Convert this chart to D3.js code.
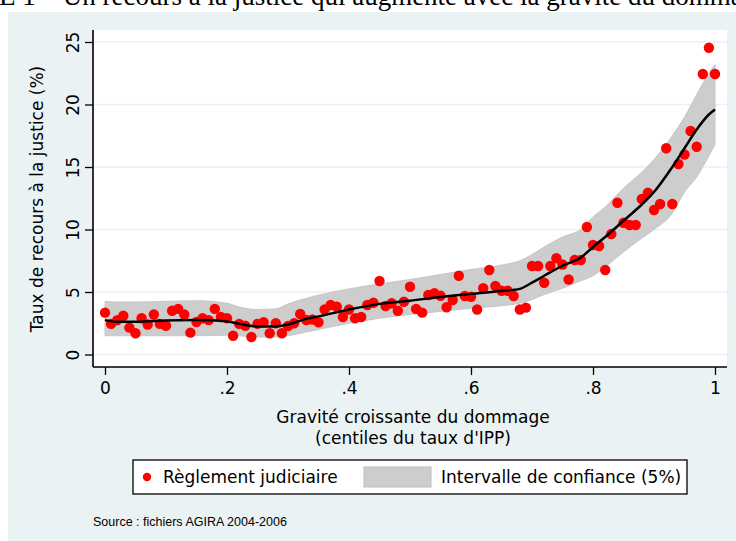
<!DOCTYPE html>
<html>
<head>
<meta charset="utf-8">
<script src="https://cdn.jsdelivr.net/npm/d3@7"></script>
<style>
  body { margin: 0; background: #fff; }
  svg { display: block; }
  text { font-family: "DejaVu Sans", "Liberation Sans", sans-serif; }
</style>
</head>
<body>
<script>
// taux de recours observé par centile (0, .01, ... 1)
var tauxObs = [3.35, 2.45, 2.75, 3.1, 2.15, 1.7, 2.9, 2.4, 3.2, 2.45,
  2.3, 3.5, 3.65, 3.2, 1.75, 2.6, 2.9, 2.75, 3.65, 3.0,
  2.9, 1.5, 2.45, 2.3, 1.4, 2.45, 2.58, 1.7, 2.5, 1.7,
  2.28, 2.5, 3.24, 2.76, 2.8, 2.58, 3.6, 3.96, 3.82, 3.0,
  3.6, 2.9, 3.0, 3.96, 4.14, 5.88, 3.88, 4.1, 3.5, 4.22,
  5.42, 3.65, 3.35, 4.76, 4.9, 4.7, 3.78, 4.36, 6.3, 4.68,
  4.62, 3.6, 5.3, 6.76, 5.48, 5.1, 5.1, 4.68, 3.6, 3.75,
  7.08, 7.08, 5.74, 7.08, 7.7, 7.2, 6.0, 7.56, 7.56, 10.2,
  8.76, 8.68, 6.76, 9.64, 12.14, 10.54, 10.36, 10.36, 12.44, 12.94,
  11.56, 12.04, 16.5, 12.04, 15.24, 16.0, 17.88, 16.62, 22.44, 24.54,
  22.44];

// courbe lissée et intervalle de confiance
var xLisse = [0, .02, .05, .1, .15, .2, .22, .25, .28, .3, .33, .35, .4, .45, .5, .55,
  .6, .65, .68, .7, .72, .75, .78, .8, .82, .85, .88, .9, .93, .95, .97, .99, 1];
var yLisse = [2.75, 2.62, 2.62, 2.72, 2.76, 2.65, 2.45, 2.25, 2.25, 2.4, 2.85, 3.05, 3.6, 4.05,
  4.3, 4.6, 4.85, 5.08, 5.25, 5.75, 6.3, 7.1, 7.75, 8.6, 9.4, 10.7, 12.0, 13.0, 15.0, 16.5,
  18.0, 19.2, 19.6];
var icBas = [1.5, 1.5, 1.5, 1.5, 1.5, 1.55, 1.5, 1.4, 1.4, 1.5, 1.8, 2.0, 2.5, 2.9, 3.2, 3.45,
  3.7, 3.9, 4.1, 4.4, 4.8, 5.3, 5.9, 6.3, 7.0, 8.2, 9.3, 10.0, 11.3, 13.0, 14.2, 15.9, 16.8];
var icHaut = [4.25, 4.2, 4.2, 4.25, 4.3, 4.1, 3.8, 3.6, 3.65, 4.05, 4.5, 4.75, 5.25, 5.65, 6.0,
  6.4, 6.8, 7.15, 7.5, 8.0, 8.6, 9.4, 10.0, 11.0, 11.8, 13.3, 14.6, 15.6, 17.5, 19.0, 20.8,
  22.5, 23.2];

var ticksX = [0, .2, .4, .6, .8, 1];
var labelsX = ["0", ".2", ".4", ".6", ".8", "1"];
var ticksY = [0, 5, 10, 15, 20, 25];

var width = 736, height = 541;
var fond = "#eaf2f3";

var svg = d3.select("body").append("svg")
  .attr("width", width)
  .attr("height", height);

// titre (coupé en haut)
var titre = svg.append("text")
  .attr("y", 5)
  .style("font-family", "'Liberation Serif', 'DejaVu Serif', serif")
  .style("font-size", "27px")
  .attr("fill", "#000");
titre.append("tspan").attr("class", "pre").text("FIGUR");
titre.append("tspan").text("E 1 \u2013 Un recours \u00e0 la justice qui augmente avec la gravit\u00e9 du dommage");
var pre = titre.select(".pre").node().getComputedTextLength();
titre.attr("x", -pre - 1);

// fond du graphique
svg.append("rect")
  .attr("x", 8).attr("y", 12)
  .attr("width", width - 8).attr("height", height - 12)
  .attr("fill", fond);

var plot = { left: 93, right: 727, top: 30, bottom: 367 };

svg.append("rect")
  .attr("x", plot.left).attr("y", plot.top)
  .attr("width", plot.right - plot.left)
  .attr("height", plot.bottom - plot.top)
  .attr("fill", "#fff");

var x = d3.scaleLinear().domain([0, 1]).range([105, 715]);
var y = d3.scaleLinear().domain([0, 25]).range([354.5, 42]);

// grille
svg.append("g").selectAll("line")
  .data(ticksY)
  .join("line")
  .attr("x1", plot.left).attr("x2", plot.right)
  .attr("y1", d => y(d)).attr("y2", d => y(d))
  .attr("stroke", fond)
  .attr("stroke-width", 1.5);

// intervalle de confiance
var ic = xLisse.map((d, i) => ({ x: d, lo: icBas[i], hi: icHaut[i], f: yLisse[i] }));

svg.append("path")
  .datum(ic)
  .attr("d", d3.area().curve(d3.curveMonotoneX)
    .x(d => x(d.x)).y0(d => y(d.lo)).y1(d => y(d.hi)))
  .attr("fill", "#cdcdcd")
  .attr("stroke", "#c6c6c6")
  .attr("stroke-width", 1);

// points observés
svg.append("g").selectAll("circle")
  .data(tauxObs)
  .join("circle")
  .attr("cx", (d, i) => x(i / 100))
  .attr("cy", d => y(d))
  .attr("r", 5.2)
  .attr("fill", "#ff0000");

// courbe lissée
svg.append("path")
  .datum(ic)
  .attr("d", d3.line().curve(d3.curveMonotoneX).x(d => x(d.x)).y(d => y(d.f)))
  .attr("fill", "none")
  .attr("stroke", "#000")
  .attr("stroke-width", 2.5)
  .attr("stroke-linejoin", "round");

// axe X
var ejeX = d3.axisBottom(x)
  .tickValues(ticksX)
  .tickFormat((d, i) => labelsX[i])
  .tickSize(8)
  .tickPadding(7);

var gX = svg.append("g")
  .attr("transform", "translate(0," + plot.bottom + ")")
  .call(ejeX);
gX.select(".domain").remove();
gX.selectAll("line").attr("stroke", "#000").attr("stroke-width", 1.3);
gX.selectAll("text").style("font-size", "17px").attr("fill", "#000");

svg.append("line")
  .attr("x1", plot.left).attr("x2", plot.right)
  .attr("y1", plot.bottom).attr("y2", plot.bottom)
  .attr("stroke", "#000").attr("stroke-width", 1.6);

// axe Y
var ejeY = d3.axisLeft(y)
  .tickValues(ticksY)
  .tickSize(8)
  .tickPadding(0);

var gY = svg.append("g")
  .attr("transform", "translate(" + plot.left + ",0)")
  .call(ejeY);
gY.select(".domain").remove();
gY.selectAll("line").attr("stroke", "#000").attr("stroke-width", 1.3);
gY.selectAll("text")
  .style("font-size", "17px")
  .attr("fill", "#000")
  .attr("x", 0).attr("dy", 0)
  .attr("text-anchor", "middle")
  .attr("transform", "translate(-14,0) rotate(-90)");

svg.append("line")
  .attr("x1", plot.left).attr("x2", plot.left)
  .attr("y1", plot.top).attr("y2", plot.bottom)
  .attr("stroke", "#000").attr("stroke-width", 1.6);

// titres des axes
svg.append("text")
  .attr("transform", "translate(43," + 199 + ") rotate(-90)")
  .attr("text-anchor", "middle")
  .style("font-size", "17px")
  .text("Taux de recours \u00e0 la justice (%)");

svg.append("text")
  .attr("x", 413).attr("y", 423)
  .attr("text-anchor", "middle")
  .style("font-size", "17px")
  .text("Gravit\u00e9 croissante du dommage");

svg.append("text")
  .attr("x", 413).attr("y", 444)
  .attr("text-anchor", "middle")
  .style("font-size", "17px")
  .text("(centiles du taux d'IPP)");

// légende
var leg = svg.append("g");
leg.append("rect")
  .attr("x", 133).attr("y", 460)
  .attr("width", 554).attr("height", 34)
  .attr("fill", "#fff")
  .attr("stroke", "#000")
  .attr("stroke-width", 1.3);
leg.append("circle")
  .attr("cx", 147).attr("cy", 477).attr("r", 4.2)
  .attr("fill", "#ff0000");
leg.append("text")
  .attr("x", 163).attr("y", 483)
  .style("font-size", "17px")
  .text("R\u00e8glement judiciaire");
leg.append("rect")
  .attr("x", 364).attr("y", 467)
  .attr("width", 67).attr("height", 20)
  .attr("fill", "#cdcdcd")
  .attr("stroke", "#bdbdbd");
leg.append("text")
  .attr("x", 441).attr("y", 483)
  .style("font-size", "17px")
  .text("Intervalle de confiance (5%)");

// source
svg.append("text")
  .attr("x", 93).attr("y", 526)
  .style("font-family", "'Liberation Sans', Arial, sans-serif")
  .style("font-size", "12.5px")
  .text("Source : fichiers AGIRA 2004-2006");
</script>
</body>
</html>
